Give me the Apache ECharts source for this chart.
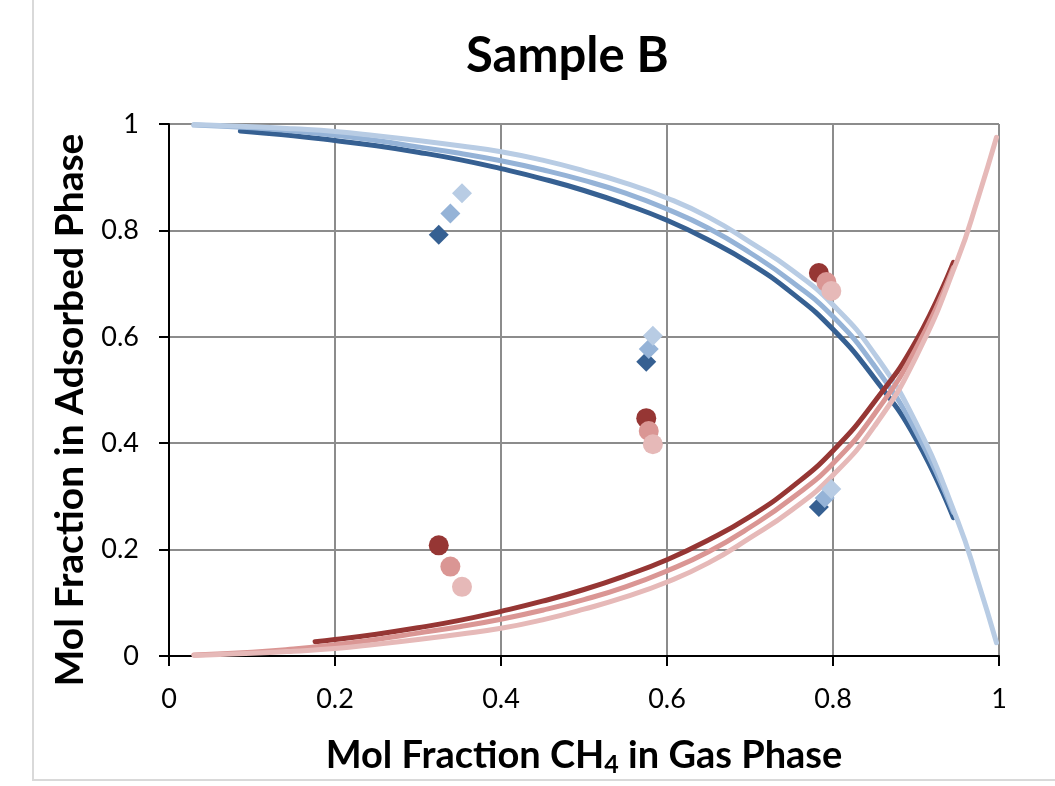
<!DOCTYPE html>
<html>
<head>
<meta charset="utf-8">
<script src="https://cdn.jsdelivr.net/npm/echarts@6/dist/echarts.min.js"></script>
<style>
html, body { margin: 0; padding: 0; background: #fff; }
#main { width: 1055px; height: 786px; }
</style>
</head>
<body>
<div id="main"></div>
<script>
// model curves, CH4 in adsorbed phase (red) and the other component (blue)
const redDark = [[0.176, 0.027], [0.2, 0.031], [0.25, 0.041], [0.3, 0.053], [0.35, 0.067], [0.4, 0.084], [0.45, 0.103], [0.5, 0.125], [0.55, 0.151], [0.6, 0.181], [0.65, 0.218], [0.7, 0.262], [0.75, 0.317], [0.8, 0.386], [0.85, 0.478], [0.9, 0.592], [0.945, 0.74]];
const redMid = [[0.03, 0.002], [0.1, 0.007], [0.15, 0.013], [0.2, 0.021], [0.25, 0.031], [0.3, 0.043], [0.35, 0.055], [0.4, 0.069], [0.45, 0.086], [0.5, 0.106], [0.55, 0.13], [0.6, 0.16], [0.65, 0.196], [0.7, 0.242], [0.75, 0.296], [0.8, 0.362], [0.85, 0.455], [0.9, 0.578], [0.945, 0.73]];
const redLight = [[0.03, 0.001], [0.1, 0.005], [0.15, 0.009], [0.2, 0.014], [0.25, 0.022], [0.3, 0.031], [0.35, 0.041], [0.4, 0.052], [0.45, 0.068], [0.5, 0.088], [0.55, 0.111], [0.6, 0.139], [0.65, 0.175], [0.7, 0.222], [0.75, 0.274], [0.8, 0.34], [0.85, 0.432], [0.9, 0.562], [0.95, 0.745], [0.975, 0.862], [0.997, 0.975]];
const blueDark = [[0.086, 0.987], [0.1, 0.985], [0.15, 0.978], [0.2, 0.969], [0.25, 0.959], [0.3, 0.947], [0.35, 0.933], [0.4, 0.916], [0.45, 0.897], [0.5, 0.875], [0.55, 0.849], [0.6, 0.819], [0.65, 0.782], [0.7, 0.738], [0.75, 0.683], [0.8, 0.614], [0.85, 0.522], [0.9, 0.408], [0.945, 0.26]];
const blueMid = [[0.03, 0.998], [0.1, 0.993], [0.15, 0.987], [0.2, 0.979], [0.25, 0.969], [0.3, 0.957], [0.35, 0.945], [0.4, 0.931], [0.45, 0.914], [0.5, 0.894], [0.55, 0.87], [0.6, 0.84], [0.65, 0.804], [0.7, 0.758], [0.75, 0.704], [0.8, 0.638], [0.85, 0.545], [0.9, 0.422], [0.945, 0.27]];
const blueLight = [[0.03, 0.999], [0.1, 0.995], [0.15, 0.991], [0.2, 0.986], [0.25, 0.978], [0.3, 0.969], [0.35, 0.959], [0.4, 0.948], [0.45, 0.932], [0.5, 0.912], [0.55, 0.889], [0.6, 0.861], [0.65, 0.825], [0.7, 0.778], [0.75, 0.726], [0.8, 0.66], [0.85, 0.568], [0.9, 0.438], [0.95, 0.255], [0.975, 0.138], [0.997, 0.025]];

// measured points
const circDark = [[0.325, 0.208], [0.575, 0.447], [0.783, 0.72]];
const circMid = [[0.339, 0.168], [0.578, 0.423], [0.792, 0.703]];
const circLight = [[0.353, 0.13], [0.583, 0.398], [0.798, 0.686]];
const diaDark = [[0.325, 0.792], [0.575, 0.553], [0.783, 0.28]];
const diaMid = [[0.339, 0.832], [0.578, 0.577], [0.79, 0.297]];
const diaLight = [[0.353, 0.87], [0.583, 0.602], [0.798, 0.314]];

const colors = {
  blueDark: '#366092', blueMid: '#95b3d7', blueLight: '#b8cce4',
  redDark: '#963634', redMid: '#da9694', redLight: '#e6b9b8',
};

const font = 'Lato';

function curve(name, data, color) {
  return {
    name: name,
    type: 'line',
    data: data,
    smooth: 0.5,
    showSymbol: false,
    lineStyle: { color: color, width: 5, cap: 'round' },
    z: 2,
  };
}

function points(name, data, color, symbol) {
  return {
    name: name,
    type: 'scatter',
    data: data,
    symbol: symbol,
    symbolSize: 20,
    itemStyle: { color: color, opacity: 1 },
    z: 3,
  };
}

const myChart = echarts.init(document.getElementById('main'));

const option = {
  animation: false,
  backgroundColor: '#fff',
  title: {
    text: 'Sample B',
    left: 461,
    top: 27,
    textStyle: { fontFamily: font, fontSize: 49, fontWeight: 'bold', color: '#000' },
  },
  graphic: [{
    type: 'rect',
    shape: { x: 33, y: -10, width: 1100, height: 790 },
    style: { fill: 'none', stroke: '#d9d9d9', lineWidth: 2 },
    z: -1,
  }],
  grid: { left: 169, right: 56, top: 124, bottom: 130 },
  xAxis: {
    type: 'value',
    min: 0,
    max: 1,
    interval: 0.2,
    name: 'Mol Fraction CH{sub|4} in Gas Phase',
    nameLocation: 'middle',
    nameGap: 78,
    nameTextStyle: {
      fontFamily: font, fontSize: 38, fontWeight: 'bold', color: '#000',
      rich: { sub: { fontFamily: font, fontSize: 25, fontWeight: 'bold', color: '#000', verticalAlign: 'bottom', padding: [18, 0, 0, 0] } },
    },
    axisLine: { lineStyle: { color: '#000', width: 2 } },
    axisTick: { length: 10, lineStyle: { color: '#000', width: 2 } },
    axisLabel: { margin: 30, fontFamily: font, fontSize: 27, color: '#000' },
    splitLine: { lineStyle: { color: '#8c8c8c', width: 2 } },
  },
  yAxis: {
    type: 'value',
    min: 0,
    max: 1,
    interval: 0.2,
    name: 'Mol Fraction in Adsorbed Phase',
    nameLocation: 'middle',
    nameGap: 77,
    nameTextStyle: { fontFamily: font, fontSize: 39, fontWeight: 'bold', color: '#000', padding: [0, 40, 0, 0] },
    axisLine: { show: true, lineStyle: { color: '#000', width: 2 } },
    axisTick: { show: true, length: 10, lineStyle: { color: '#000', width: 2 } },
    axisLabel: { margin: 30, fontFamily: font, fontSize: 27, color: '#000' },
    splitLine: { lineStyle: { color: '#8c8c8c', width: 2 } },
  },
  series: [
    curve('Blue model 1', blueDark, colors.blueDark),
    curve('Blue model 2', blueMid, colors.blueMid),
    curve('Blue model 3', blueLight, colors.blueLight),
    curve('Red model 1', redDark, colors.redDark),
    curve('Red model 2', redMid, colors.redMid),
    curve('Red model 3', redLight, colors.redLight),
    points('Blue data 1', diaDark, colors.blueDark, 'diamond'),
    points('Blue data 2', diaMid, colors.blueMid, 'diamond'),
    points('Blue data 3', diaLight, colors.blueLight, 'diamond'),
    points('Red data 1', circDark, colors.redDark, 'circle'),
    points('Red data 2', circMid, colors.redMid, 'circle'),
    points('Red data 3', circLight, colors.redLight, 'circle'),
  ],
};

myChart.setOption(option);
</script>
</body>
</html>
